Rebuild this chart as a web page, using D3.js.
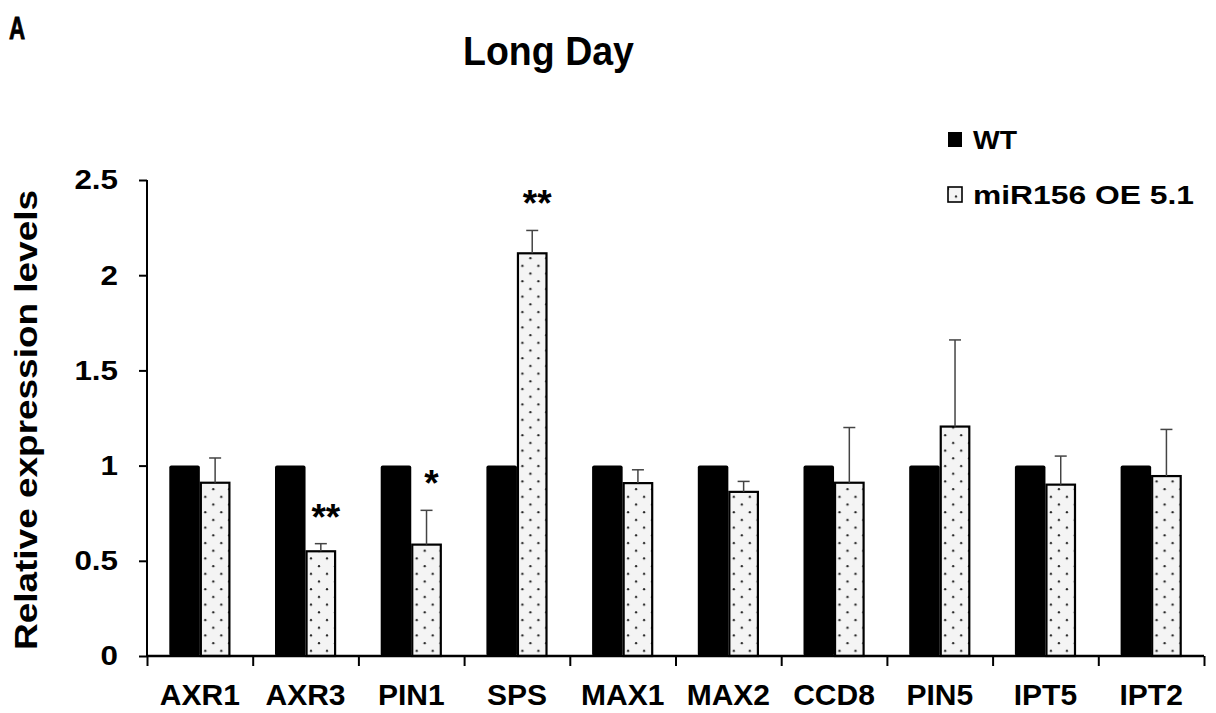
<!DOCTYPE html>
<html>
<head>
<meta charset="utf-8">
<script src="https://cdn.jsdelivr.net/npm/d3@7/dist/d3.min.js"></script>
<style>
  html, body { margin: 0; padding: 0; background: #fff; }
  svg { display: block; }
  text { font-family: "Liberation Sans", Arial, sans-serif; font-weight: bold; fill: #000; }
</style>
</head>
<body>
<svg id="chart" width="1216" height="713"></svg>
<script>
// Relative expression of branching-related genes under long-day conditions
const categories = ["AXR1", "AXR3", "PIN1", "SPS", "MAX1", "MAX2", "CCD8", "PIN5", "IPT5", "IPT2"];
const seriesNames = ["WT", "miR156 OE 5.1"];
const wtValues = [1, 1, 1, 1, 1, 1, 1, 1, 1, 1];
const oeValues = [0.91, 0.55, 0.585, 2.115, 0.908, 0.862, 0.91, 1.205, 0.90, 0.945];
const oeErrors = [0.13, 0.04, 0.18, 0.12, 0.07, 0.055, 0.29, 0.455, 0.15, 0.245];
const significance = ["", "**", "*", "**", "", "", "", "", "", ""];
const yTicks = [0, 0.5, 1, 1.5, 2, 2.5];

const svg = d3.select("#chart");
const W = 1216, H = 713;
svg.append("rect").attr("width", W).attr("height", H).attr("fill", "#fff");

const plot = { left: 147, right: 1204, top: 180, bottom: 656 };

const y = d3.scaleLinear().domain([0, 2.5]).range([plot.bottom, plot.top]);
const x0 = d3.scaleBand().domain(categories).range([plot.left, plot.right]).paddingInner(0).paddingOuter(0);
const groupW = x0.bandwidth() * 0.578;
const x1 = d3.scaleBand().domain(seriesNames).range([0, groupW]).padding(0);
const groupOffset = (x0.bandwidth() - groupW) / 2;

// stipple fill for the transgenic line
const defs = svg.append("defs");
const pat = defs.append("pattern")
  .attr("id", "dots").attr("patternUnits", "userSpaceOnUse")
  .attr("width", 16).attr("height", 15.4);
pat.append("rect").attr("width", 16).attr("height", 15.4).attr("fill", "#f4f4f4");
pat.append("circle").attr("cx", 4).attr("cy", 4).attr("r", 1.15).attr("fill", "#222");
pat.append("circle").attr("cx", 12).attr("cy", 11.7).attr("r", 1.15).attr("fill", "#222");

// panel letter and title (condensed bold)
svg.append("g").attr("transform", "translate(9,39)")
  .append("text")
  .attr("transform", "scale(0.7,1)")
  .style("font-family", "'Liberation Sans', Arial, sans-serif")
  .style("font-weight", "700")
  .style("font-size", "32px")
  .attr("stroke", "#000").attr("stroke-width", 0.8)
  .text("A");
svg.append("text").attr("x", 463).attr("y", 65)
  .style("font-family", "'Liberation Sans', Arial, sans-serif")
  .style("font-weight", "700")
  .style("font-size", "41px")
  .attr("textLength", 171).attr("lengthAdjust", "spacingAndGlyphs")
  .text("Long Day");

// bars
const groups = svg.append("g").selectAll("g").data(categories).join("g")
  .attr("transform", d => `translate(${x0(d) + groupOffset},0)`);

groups.append("rect")
  .attr("x", x1("WT"))
  .attr("y", (d, i) => y(wtValues[i]))
  .attr("width", x1.bandwidth())
  .attr("height", (d, i) => y(0) - y(wtValues[i]))
  .attr("rx", 2)
  .attr("fill", "#000");

groups.append("rect")
  .attr("x", x1(seriesNames[1]) + 1)
  .attr("y", (d, i) => y(oeValues[i]))
  .attr("width", x1.bandwidth() - 2)
  .attr("height", (d, i) => y(0) - y(oeValues[i]))
  .attr("fill", "url(#dots)")
  .attr("stroke", "#000").attr("stroke-width", 2.2);

// upper error bars
const ex = x1(seriesNames[1]) + x1.bandwidth() / 2;
groups.append("line")
  .attr("x1", ex).attr("x2", ex)
  .attr("y1", (d, i) => y(oeValues[i]))
  .attr("y2", (d, i) => y(oeValues[i] + oeErrors[i]))
  .attr("stroke", "#444").attr("stroke-width", 1.5);
groups.append("line")
  .attr("x1", ex - 6).attr("x2", ex + 6)
  .attr("y1", (d, i) => y(oeValues[i] + oeErrors[i]))
  .attr("y2", (d, i) => y(oeValues[i] + oeErrors[i]))
  .attr("stroke", "#444").attr("stroke-width", 1.5);

// significance marks
groups.append("text")
  .attr("x", ex + 5)
  .attr("y", (d, i) => y(oeValues[i] + oeErrors[i]) - 14)
  .attr("text-anchor", "middle")
  .style("font-size", "37px")
  .text((d, i) => significance[i]);

// y axis
const yAxis = svg.append("g")
  .attr("transform", `translate(${plot.left},0)`)
  .call(d3.axisLeft(y).tickValues(yTicks).tickSize(8).tickPadding(21).tickFormat(d3.format("")));
yAxis.select(".domain").attr("stroke", "#000").attr("stroke-width", 2).attr("d", `M0,${plot.top}V${plot.bottom}`);
yAxis.selectAll(".tick line").attr("stroke", "#000").attr("stroke-width", 2);
yAxis.selectAll(".tick text")
  .style("font-size", "28px")
  .style("font-family", "'Liberation Sans', Arial")
  .style("font-weight", "bold")
  .attr("fill", "#000")
  .each(function () {
    const len = this.getComputedTextLength();
    d3.select(this).attr("textLength", len * 1.12).attr("lengthAdjust", "spacingAndGlyphs");
  });

// x axis: boundary ticks between categories
const xEdges = d3.scaleLinear().domain([0, categories.length]).range([plot.left, plot.right]);
const xAxis = svg.append("g")
  .attr("transform", `translate(0,${plot.bottom})`)
  .call(d3.axisBottom(xEdges).tickValues(d3.range(categories.length + 1)).tickSize(10).tickFormat(""));
xAxis.select(".domain").attr("stroke", "#000").attr("stroke-width", 2.4).attr("d", `M${plot.left},0H${plot.right}`);
xAxis.selectAll(".tick line").attr("stroke", "#000").attr("stroke-width", 2);

const xLabels = svg.append("g")
  .attr("transform", `translate(0,${plot.bottom})`)
  .call(d3.axisBottom(x0).tickSize(0).tickPadding(0));
xLabels.select(".domain").remove();
xLabels.selectAll(".tick text")
  .attr("dy", null).attr("y", 49)
  .style("font-size", "30px")
  .style("font-family", "'Liberation Sans', Arial")
  .style("font-weight", "bold")
  .attr("fill", "#000");

// y axis title
svg.append("text")
  .attr("transform", `translate(37,${(190 + 650) / 2}) rotate(-90)`)
  .attr("text-anchor", "middle")
  .style("font-size", "32px")
  .attr("textLength", 460).attr("lengthAdjust", "spacingAndGlyphs")
  .text("Relative expression levels");

// legend
const legend = svg.append("g");
const legendRows = [
  { name: seriesNames[0], fill: "#000", stroke: "none", y: 132, len: 44 },
  { name: seriesNames[1], fill: "url(#dots)", stroke: "#000", y: 187, len: 221 }
];
legendRows.forEach(r => {
  legend.append("rect")
    .attr("x", 948).attr("y", r.y).attr("width", 14).attr("height", 15)
    .attr("fill", r.fill).attr("stroke", r.stroke).attr("stroke-width", 1.6);
  legend.append("text")
    .attr("x", 973).attr("y", r.y + 17)
    .style("font-size", "26px")
    .attr("textLength", r.len).attr("lengthAdjust", "spacingAndGlyphs")
    .text(r.name);
});
</script>
</body>
</html>
